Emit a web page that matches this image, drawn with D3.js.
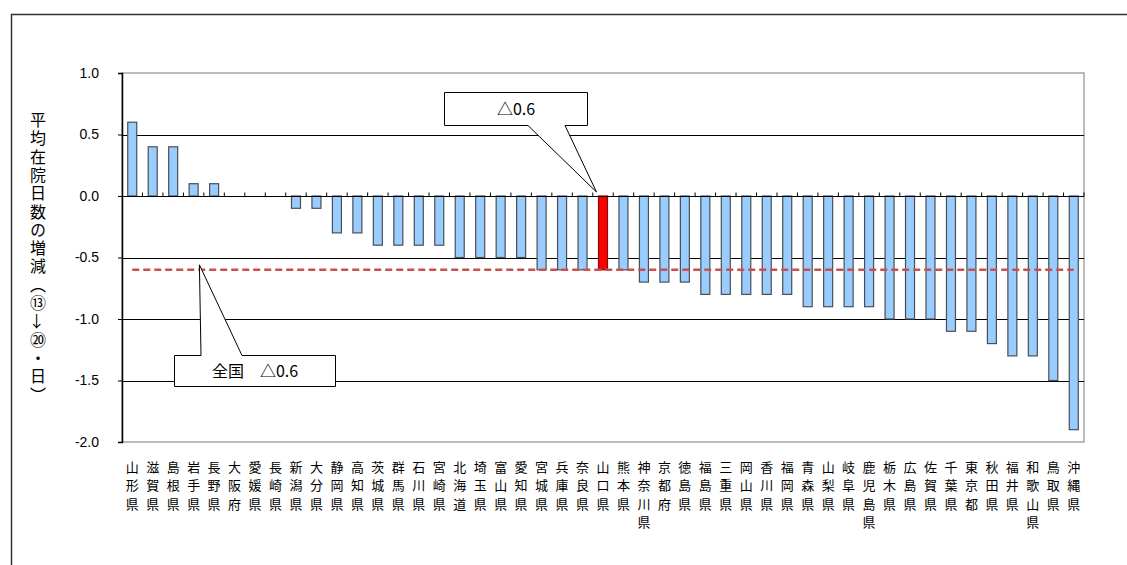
<!DOCTYPE html>
<html>
<head>
<meta charset="utf-8">
<script src="https://cdn.jsdelivr.net/npm/d3@7"></script>
<style>
  body { margin: 0; background: #fff; }
  svg { display: block; }
  text { font-family: "Liberation Sans", Arial, sans-serif; }
  .jp { font-family: "Noto Sans CJK JP", sans-serif; }
  .vert { writing-mode: vertical-rl; text-orientation: mixed; }
</style>
</head>
<body>
<div id="chart"></div>
<script>
// prefectures, sorted as in the chart
var prefectures = ["山形県", "滋賀県", "島根県", "岩手県", "長野県", "大阪府", "愛媛県", "長崎県",
    "新潟県", "大分県", "静岡県", "高知県", "茨城県", "群馬県", "石川県", "宮崎県",
    "北海道", "埼玉県", "富山県", "愛知県", "宮城県", "兵庫県", "奈良県", "山口県",
    "熊本県", "神奈川県", "京都府", "徳島県", "福島県", "三重県", "岡山県", "香川県",
    "福岡県", "青森県", "山梨県", "岐阜県", "鹿児島県", "栃木県", "広島県", "佐賀県",
    "千葉県", "東京都", "秋田県", "福井県", "和歌山県", "鳥取県", "沖縄県"];

// change of average length of stay (days)
var changes = [0.6, 0.4, 0.4, 0.1, 0.1, 0, 0, 0,
    -0.1, -0.1, -0.3, -0.3, -0.4, -0.4, -0.4, -0.4,
    -0.5, -0.5, -0.5, -0.5, -0.6, -0.6, -0.6, -0.6,
    -0.6, -0.7, -0.7, -0.7, -0.8, -0.8, -0.8, -0.8,
    -0.8, -0.9, -0.9, -0.9, -0.9, -1.0, -1.0, -1.0,
    -1.1, -1.1, -1.2, -1.3, -1.3, -1.5, -1.9];

var yTicks = [1.0, 0.5, 0.0, -0.5, -1.0, -1.5, -2.0];
var yDomain = [-2.0, 1.0];
var nationalValue = -0.6;
var highlighted = "山口県";
// "→" is turned to point down in vertical writing
var yTitle = "平均在院日数の増減（⑬→⑳・日）";
var calloutPref = "△0.6";
var calloutNation = "全国　△0.6";

var width = 1127, height = 565;
var plot = { left: 122, right: 1084, top: 73, bottom: 442 };

var svg = d3.select("#chart").append("svg")
    .attr("width", width)
    .attr("height", height);

// outer frame (runs off the right and bottom of the picture)
svg.append("rect")
    .attr("x", 11.5).attr("y", 14.5)
    .attr("width", width).attr("height", height)
    .attr("fill", "none")
    .attr("stroke", "#333")
    .attr("stroke-width", 1.5);

// scales
var x = d3.scaleBand()
    .domain(prefectures)
    .range([plot.left, plot.right])
    .paddingInner(0.56)
    .paddingOuter(0.28);

var xb = d3.scaleBand().domain(prefectures).range([plot.left, plot.right]);

var y = d3.scaleLinear()
    .domain(yDomain)
    .range([plot.bottom, plot.top]);

// plot area border
svg.append("rect")
    .attr("x", plot.left).attr("y", plot.top)
    .attr("width", plot.right - plot.left).attr("height", plot.bottom - plot.top)
    .attr("fill", "none")
    .attr("stroke", "#a6a6a6")
    .attr("stroke-width", 1.5);

// gridlines
svg.selectAll("line.grid")
    .data(yTicks.filter(function(d) { return d < yDomain[1] && d > yDomain[0]; }))
    .enter().append("line")
    .attr("class", "grid")
    .attr("x1", plot.left).attr("x2", plot.right)
    .attr("y1", function(d) { return Math.round(y(d)) + 0.5; })
    .attr("y2", function(d) { return Math.round(y(d)) + 0.5; })
    .attr("stroke", "#000")
    .attr("stroke-width", 1.2);

// y axis
var yAxis = svg.append("g")
    .attr("transform", "translate(" + plot.left + ",0)")
    .call(d3.axisLeft(y).tickValues(yTicks).tickSize(4).tickPadding(19)
        .tickFormat(function(d) { return d3.format(".1f")(d).replace("−", "-"); }));
yAxis.select(".domain").attr("stroke", "#000").attr("stroke-width", 1.5);
yAxis.selectAll("line").attr("stroke", "#000");
yAxis.selectAll("text")
    .attr("font-size", 14)
    .attr("font-family", "Liberation Sans, Arial, sans-serif")
    .attr("fill", "#000");

// bars
svg.selectAll("rect.bar")
    .data(changes)
    .enter().append("rect")
    .attr("class", "bar")
    .attr("x", function(d, i) { return x(prefectures[i]); })
    .attr("y", function(d) { return y(Math.max(0, d)); })
    .attr("width", x.bandwidth())
    .attr("height", function(d) { return Math.abs(y(d) - y(0)); })
    .attr("fill", function(d, i) { return prefectures[i] == highlighted ? "#ff0000" : "#99ccff"; })
    .attr("stroke", function(d, i) { return prefectures[i] == highlighted ? "#7a1010" : "#4a4f55"; })
    .attr("stroke-width", 1.2);

// zero line with category ticks pointing up
var xAxis = svg.append("g")
    .attr("transform", "translate(0," + (Math.round(y(0)) + 0.5) + ")");
xAxis.append("line")
    .attr("x1", plot.left).attr("x2", plot.right)
    .attr("stroke", "#000").attr("stroke-width", 1.2);
xAxis.selectAll("line.tick")
    .data(prefectures)
    .enter().append("line")
    .attr("class", "tick")
    .attr("x1", function(d) { return xb(d) + xb.bandwidth(); })
    .attr("x2", function(d) { return xb(d) + xb.bandwidth(); })
    .attr("y1", 0).attr("y2", -4)
    .attr("stroke", "#000");

// national average (dashed)
var firstC = x(prefectures[0]) + x.bandwidth() / 2;
var lastC = x(prefectures[prefectures.length - 1]) + x.bandwidth() / 2;
svg.append("line")
    .attr("x1", firstC).attr("x2", lastC)
    .attr("y1", y(nationalValue)).attr("y2", y(nationalValue))
    .attr("stroke", "#c9504d")
    .attr("stroke-width", 2.5)
    .attr("stroke-dasharray", "7,4");

// x labels, written top to bottom
var labels = svg.selectAll("text.xl")
    .data(prefectures)
    .enter().append("text")
    .attr("class", "xl jp")
    .attr("text-anchor", "middle")
    .attr("font-size", 13)
    .attr("fill", "#000");
labels.selectAll("tspan")
    .data(function(d) { return Array.from(d).map(function(c, i) { return { c: c, i: i, p: d }; }); })
    .enter().append("tspan")
    .attr("x", function(d) { return xb(d.p) + xb.bandwidth() / 2; })
    .attr("y", function(d) { return 472 + d.i * 18.3; })
    .text(function(d) { return d.c; });

// y title, vertical
svg.append("text")
    .attr("class", "jp vert")
    .attr("x", 38)
    .attr("y", 112)
    .attr("font-size", 16)
    .attr("letter-spacing", 2.3)
    .attr("fill", "#000")
    .text(yTitle);

// callout with a pointer: box [x0,y0,x1,y1], pointer base [b0,b1] on the given edge, tip [tx,ty]
function callout(box, base, edge, tip, label) {
    var p;
    if (edge == "bottom") {
        p = [[box[0], box[1]], [box[2], box[1]], [box[2], box[3]], [base[1], box[3]],
             tip, [base[0], box[3]], [box[0], box[3]]];
    } else {
        p = [[box[0], box[1]], [base[0], box[1]], tip, [base[1], box[1]],
             [box[2], box[1]], [box[2], box[3]], [box[0], box[3]]];
    }
    svg.append("path")
        .attr("d", d3.line()(p) + "Z")
        .attr("fill", "#fff")
        .attr("stroke", "#000")
        .attr("stroke-width", 1);
    svg.append("text")
        .attr("class", "jp")
        .attr("x", (box[0] + box[2]) / 2)
        .attr("y", (box[1] + box[3]) / 2 + 6)
        .attr("text-anchor", "middle")
        .attr("font-size", 16)
        .attr("fill", "#000")
        .text(label);
}

var tipPref = [x(highlighted) - 2, y(0) - 4];
callout([444.5, 92.5, 587.5, 125.5], [528, 565], "bottom", tipPref, calloutPref);

var tipNation = [xb(prefectures[3]) + 16, y(nationalValue) - 5];
callout([174.5, 355.5, 335.5, 386.5], [201, 242], "top", tipNation, calloutNation);
</script>
</body>
</html>
